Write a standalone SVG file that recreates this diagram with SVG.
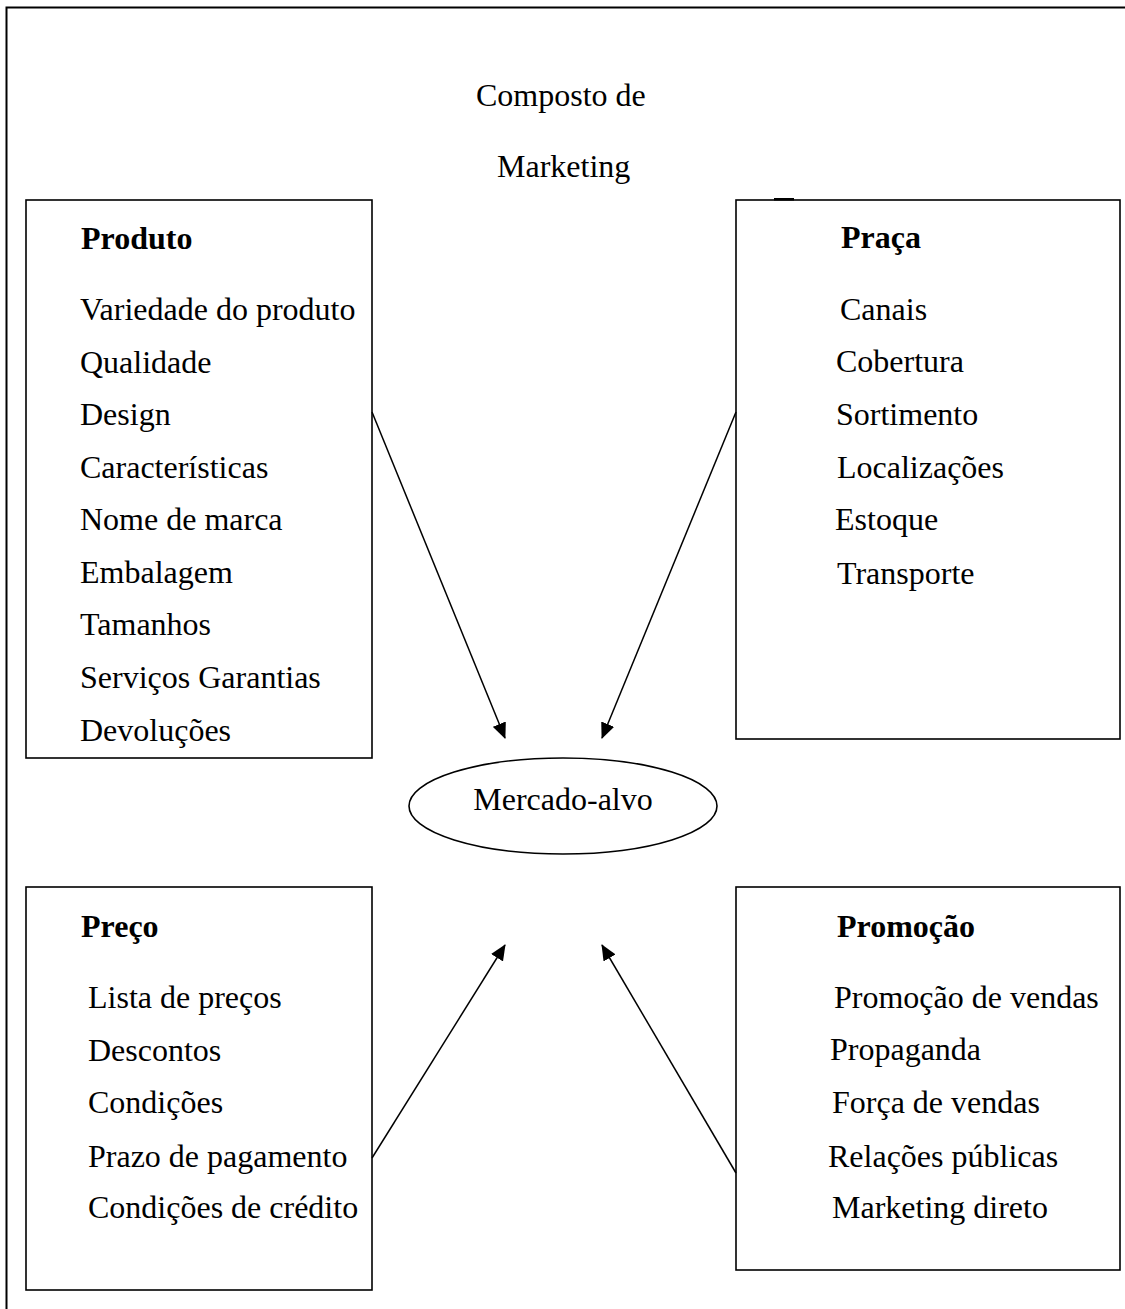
<svg xmlns="http://www.w3.org/2000/svg" width="1125" height="1309" viewBox="0 0 1125 1309">
  <style>
    text { font-family: "Liberation Serif", "Times New Roman", serif; font-size: 32px; fill: #000; }
    .title { font-weight: bold; }
    .box { fill: #fff; stroke: #000; stroke-width: 1.6; }
    .frame { fill: none; stroke: #000; stroke-width: 2; }
    .conn { stroke: #000; stroke-width: 1.5; fill: none; marker-end: url(#arrow); }
  </style>
  <defs>
    <marker id="arrow" viewBox="0 0 16 14" refX="15" refY="7" markerWidth="16" markerHeight="14" markerUnits="userSpaceOnUse" orient="auto">
      <path d="M0,0 L16,7 L0,14 z" fill="#000"/>
    </marker>
  </defs>
  <rect width="1125" height="1309" fill="#fff"/>

  <!-- outer frame -->
  <path class="frame" d="M6.5,1309 V7.5 H1125"/>

  <!-- heading -->
  <g id="heading">
    <text x="476" y="106">Composto de</text>
    <text x="497" y="177">Marketing</text>
  </g>

  <!-- Produto -->
  <g id="produto">
    <rect class="box" x="26" y="200" width="346" height="558"/>
    <text class="title" x="81" y="249">Produto</text>
    <text x="80" y="320">Variedade do produto</text>
    <text x="80" y="372.5">Qualidade</text>
    <text x="80" y="425">Design</text>
    <text x="80" y="478">Características</text>
    <text x="80" y="530">Nome de marca</text>
    <text x="80" y="583">Embalagem</text>
    <text x="80" y="635">Tamanhos</text>
    <text x="80" y="688">Serviços Garantias</text>
    <text x="80" y="741">Devoluções</text>
  </g>

  <!-- Praça -->
  <g id="praca">
    <rect class="box" x="736" y="200" width="384" height="539"/>
    <rect x="774" y="198" width="20" height="2.5" fill="#000"/>
    <text class="title" x="841" y="248">Praça</text>
    <text x="840" y="320">Canais</text>
    <text x="836" y="372">Cobertura</text>
    <text x="836" y="425">Sortimento</text>
    <text x="837" y="478">Localizações</text>
    <text x="835" y="530">Estoque</text>
    <text x="837" y="584">Transporte</text>
  </g>

  <!-- Mercado-alvo -->
  <g id="mercado-alvo">
    <ellipse cx="563" cy="806" rx="154" ry="48" fill="#fff" stroke="#000" stroke-width="1.6"/>
    <text x="563" y="810" text-anchor="middle">Mercado-alvo</text>
  </g>

  <!-- Preço -->
  <g id="preco">
    <rect class="box" x="26" y="887" width="346" height="403"/>
    <text class="title" x="81" y="937">Preço</text>
    <text x="88" y="1008">Lista de preços</text>
    <text x="88" y="1061">Descontos</text>
    <text x="88" y="1113">Condições</text>
    <text x="88" y="1167">Prazo de pagamento</text>
    <text x="88" y="1218">Condições de crédito</text>
  </g>

  <!-- Promoção -->
  <g id="promocao">
    <rect class="box" x="736" y="887" width="384" height="383"/>
    <text class="title" x="837" y="937">Promoção</text>
    <text x="834" y="1008">Promoção de vendas</text>
    <text x="830" y="1060">Propaganda</text>
    <text x="832" y="1113">Força de vendas</text>
    <text x="828" y="1167">Relações públicas</text>
    <text x="832" y="1218">Marketing direto</text>
  </g>

  <!-- connectors -->
  <g id="connectors">
    <line class="conn" x1="372" y1="412" x2="505" y2="738"/>
    <line class="conn" x1="736" y1="412" x2="602" y2="738"/>
    <line class="conn" x1="372" y1="1158" x2="505" y2="945"/>
    <line class="conn" x1="736" y1="1173" x2="602" y2="945"/>
  </g>
</svg>
